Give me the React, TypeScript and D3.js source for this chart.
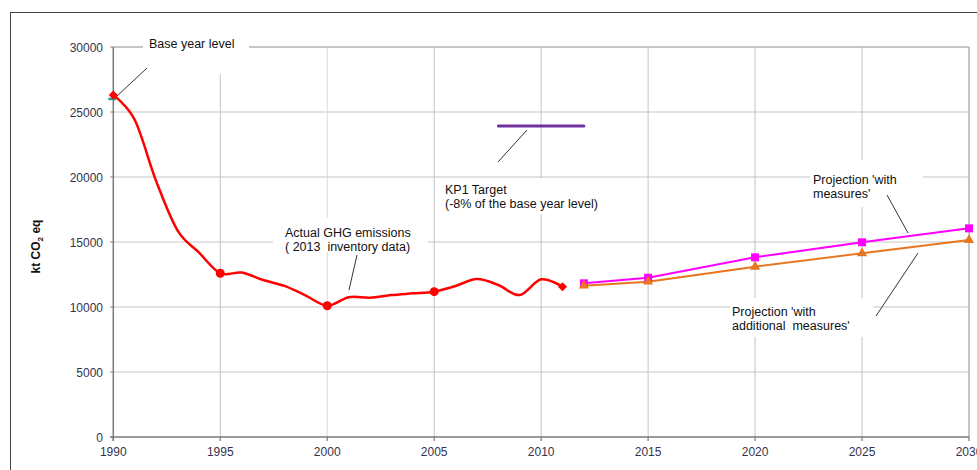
import React from "react";
import * as d3 from "d3";

const histYears = [1990, 1991, 1992, 1993, 1994, 1995, 1996, 1997, 1998, 1999, 2000, 2001, 2002, 2003, 2004, 2005, 2006, 2007, 2008, 2009, 2010, 2011];
const histValues = [26300, 24400, 19700, 15900, 14200, 12600, 12650, 12080, 11620, 10880, 10100, 10750, 10720, 10920, 11050, 11180, 11620, 12150, 11690, 10920, 12130, 11560];
const circleYears = [1995, 2000, 2005];
const diamondYears = [1990, 2011];
const projYears = [2012, 2015, 2020, 2025, 2030];
const withMeasures = [11820, 12250, 13820, 14980, 16050];
const withAdditional = [11640, 11950, 13100, 14130, 15150];
const baseYearLevel = 26000;
const kp1Years = [2008, 2012];
const kp1Target = 23920;
const xTicks = [1990, 1995, 2000, 2005, 2010, 2015, 2020, 2025, 2030];
const yTicks = [0, 5000, 10000, 15000, 20000, 25000, 30000];

const FONT = "'Liberation Sans', Arial, sans-serif";

export default function App() {
  const x = d3.scaleLinear().domain([1990, 2030]).range([113.3, 969]);
  const y = d3.scaleLinear().domain([0, 30000]).range([437, 47]);

  const smooth = d3
    .line<[number, number]>()
    .x((d) => x(d[0]))
    .y((d) => y(d[1]))
    .curve(d3.curveCardinal.tension(0));
  const straight = d3
    .line<[number, number]>()
    .x((d) => x(d[0]))
    .y((d) => y(d[1]));

  const hist: [number, number][] = histYears.map((yr, i) => [yr, histValues[i]]);
  const wm: [number, number][] = projYears.map((yr, i) => [yr, withMeasures[i]]);
  const wam: [number, number][] = projYears.map((yr, i) => [yr, withAdditional[i]]);
  const tri = d3.symbol().type(d3.symbolTriangle).size(45)();

  const x0 = x(1990);
  const x1 = x(2030);

  const boxes = [
    { x: 143, y: 38, w: 106, h: 36 },
    { x: 438, y: 178, w: 208, h: 36 },
    { x: 273, y: 218, w: 155, h: 34 },
    { x: 810, y: 160, w: 113, h: 47 },
    { x: 730, y: 298, w: 143, h: 39 },
  ];

  const textStyle = { fontFamily: FONT, fontSize: 12.5, fill: "#111" } as const;

  return (
    <svg width={977} height={470} style={{ position: "absolute", left: 0, top: 0, background: "#fff" }}>
      <rect x={0} y={0} width={977} height={470} fill="#fff" />
      <rect x={10.5} y={12.5} width={990} height={490} fill="none" stroke="#444" strokeWidth={1} />

      {/* horizontal gridlines */}
      {yTicks.filter((t) => t > 0 && t < 30000).map((t) => (
        <line key={"h" + t} x1={x0} x2={x1} y1={y(t)} y2={y(t)} stroke="#d9d9d9" strokeWidth={1.5} />
      ))}
      {/* vertical gridlines */}
      {xTicks.filter((t) => t > 1990 && t < 2030).map((t) => (
        <line key={"v" + t} x1={x(t)} x2={x(t)} y1={y(30000)} y2={y(0)} stroke={t === 2000 ? "#dadada" : "#c4c4c4"} strokeWidth={1} />
      ))}
      {/* plot top & right border */}
      <line x1={x0} x2={x1} y1={y(30000)} y2={y(30000)} stroke="#b3b3b3" strokeWidth={1.5} />
      <line x1={x1} x2={x1} y1={y(30000)} y2={y(0)} stroke="#b3b3b3" strokeWidth={1.5} />

      {/* label backgrounds */}
      {boxes.map((b, i) => (
        <rect key={"b" + i} x={b.x} y={b.y} width={b.w} height={b.h} fill="#fff" />
      ))}

      {/* axes */}
      <line x1={x0} x2={x0} y1={y(30000)} y2={y(0) + 4} stroke="#7a7a7a" strokeWidth={1.5} />
      <line x1={x0 - 3} x2={x1} y1={y(0)} y2={y(0)} stroke="#7a7a7a" strokeWidth={1.5} />
      {yTicks.map((t) => (
        <line key={"yt" + t} x1={x0 - 3} x2={x0} y1={y(t)} y2={y(t)} stroke="#7a7a7a" strokeWidth={1} />
      ))}
      {xTicks.map((t) => (
        <line key={"xt" + t} x1={x(t)} x2={x(t)} y1={y(0)} y2={y(0) + 4} stroke="#7a7a7a" strokeWidth={1.2} />
      ))}
      {yTicks.map((t) => (
        <text key={"yl" + t} x={103} y={y(t) + 4.5} textAnchor="end" fontFamily={FONT} fontSize={12} fill="#33334d">
          {t}
        </text>
      ))}
      {xTicks.map((t) => (
        <text key={"xl" + t} x={x(t)} y={456} textAnchor="middle" fontFamily={FONT} fontSize={12} fill="#33334d">
          {t}
        </text>
      ))}
      <text transform="translate(39.5,246.5) rotate(-90)" textAnchor="middle" fontFamily={FONT} fontSize={12} fontWeight="bold" fill="#111">
        kt CO<tspan fontSize={8} dy={3}>2</tspan>
        <tspan dy={-3}> eq</tspan>
      </text>

      {/* base year level dash */}
      <line x1={x(1990) - 5} x2={x(1990) + 3} y1={y(baseYearLevel)} y2={y(baseYearLevel)} stroke="#339988" strokeWidth={2.5} />

      {/* KP1 target */}
      <line x1={x(kp1Years[0])} x2={x(kp1Years[1])} y1={y(kp1Target)} y2={y(kp1Target)} stroke="#7030a0" strokeWidth={3} strokeLinecap="round" />

      {/* historical */}
      <path d={smooth(hist) || ""} fill="none" stroke="#ff0000" strokeWidth={2.5} />
      {circleYears.map((yr) => (
        <circle key={"c" + yr} cx={x(yr)} cy={y(histValues[histYears.indexOf(yr)])} r={4.5} fill="#ff0000" />
      ))}
      {diamondYears.map((yr) => (
        <rect key={"d" + yr} x={-3.2} y={-3.2} width={6.4} height={6.4} transform={`translate(${x(yr)},${y(histValues[histYears.indexOf(yr)])}) rotate(45)`} fill="#ff0000" />
      ))}

      {/* projections */}
      <path d={straight(wam) || ""} fill="none" stroke="#e8761e" strokeWidth={2} />
      <path d={straight(wm) || ""} fill="none" stroke="#ff00ff" strokeWidth={2} />
      {wm.map((d) => (
        <rect key={"s" + d[0]} x={x(d[0]) - 4} y={y(d[1]) - 4} width={8} height={8} fill="#ff00ff" />
      ))}
      {wam.map((d) => (
        <path key={"t" + d[0]} d={tri || ""} transform={`translate(${x(d[0])},${y(d[1])})`} fill="#e8761e" />
      ))}

      {/* connectors */}
      <g stroke="#333" strokeWidth={1}>
        <line x1={117} y1={96} x2={147} y2={68} />
        <line x1={498} y1={162} x2={527} y2={130} />
        <line x1={349} y1={290} x2={357} y2={255} />
        <line x1={887} y1={195} x2={908} y2={233} />
        <line x1={918} y1={253} x2={876} y2={316} />
      </g>

      {/* annotations */}
      <text x={149} y={48} {...textStyle}>Base year level</text>
      <text x={445} y={194} {...textStyle}>KP1 Target</text>
      <text x={445} y={208} {...textStyle}>(-8% of the base year level)</text>
      <text x={285} y={236.5} {...textStyle}>Actual GHG emissions</text>
      <text x={285} y={250.5} {...textStyle} xmlSpace="preserve">( 2013  inventory data)</text>
      <text x={813} y={184} {...textStyle}>Projection 'with</text>
      <text x={813} y={198} {...textStyle}>measures'</text>
      <text x={732} y={316} {...textStyle}>Projection 'with</text>
      <text x={732} y={330} {...textStyle} xmlSpace="preserve">additional  measures'</text>
    </svg>
  );
}
